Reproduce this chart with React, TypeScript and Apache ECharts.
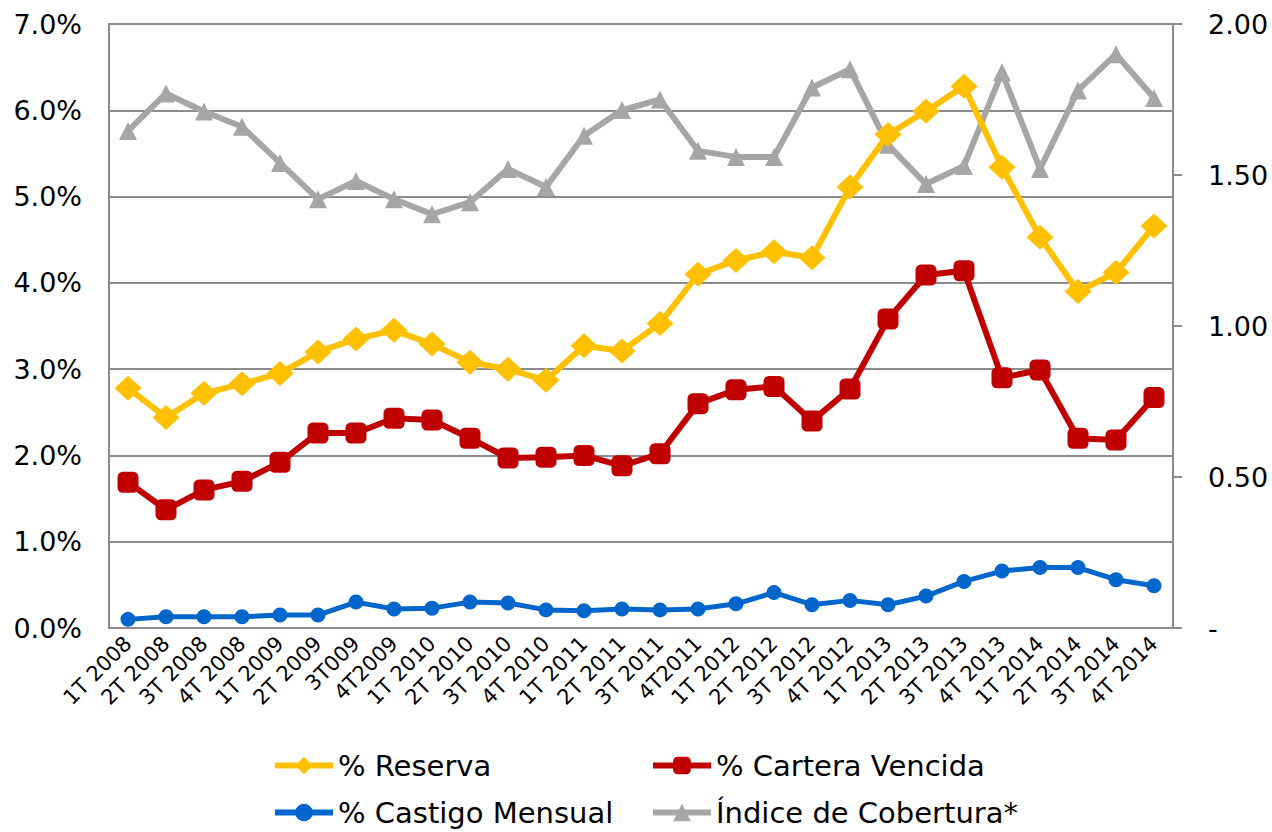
import React, { useEffect, useRef } from "react";
import * as echarts from "echarts";

const categories = [
  "1T 2008", "2T 2008", "3T 2008", "4T 2008",
  "1T 2009", "2T 2009", "3T009", "4T2009",
  "1T 2010", "2T 2010", "3T 2010", "4T 2010",
  "1T 2011", "2T 2011", "3T 2011", "4T2011",
  "1T 2012", "2T 2012", "3T 2012", "4T 2012",
  "1T 2013", "2T 2013", "3T 2013", "4T 2013",
  "1T 2014", "2T 2014", "3T 2014", "4T 2014",
];

const reserva = [
  2.78, 2.44, 2.72, 2.83, 2.95, 3.2, 3.35, 3.45, 3.29, 3.08, 3.0, 2.87,
  3.27, 3.21, 3.53, 4.1, 4.26, 4.36, 4.29, 5.11, 5.72, 5.99, 6.28, 5.34,
  4.53, 3.9, 4.12, 4.66,
];

const carteraVencida = [
  1.69, 1.37, 1.6, 1.7, 1.92, 2.26, 2.26, 2.43, 2.41, 2.2, 1.97, 1.98,
  2.0, 1.88, 2.02, 2.6, 2.76, 2.8, 2.4, 2.77, 3.58, 4.09, 4.14, 2.9,
  2.99, 2.2, 2.18, 2.67,
];

const castigoMensual = [
  0.1, 0.13, 0.13, 0.13, 0.15, 0.15, 0.3, 0.22, 0.23, 0.3, 0.29, 0.21,
  0.2, 0.22, 0.21, 0.22, 0.28, 0.41, 0.27, 0.32, 0.27, 0.37, 0.54, 0.66,
  0.7, 0.7, 0.56, 0.49,
];

const indiceCobertura = [
  1.646, 1.77, 1.71, 1.66, 1.54, 1.42, 1.48, 1.42, 1.37, 1.41, 1.52, 1.46,
  1.63, 1.715, 1.75, 1.58, 1.56, 1.56, 1.79, 1.85, 1.6, 1.47, 1.53, 1.84,
  1.52, 1.78, 1.9, 1.755,
];

const FONT = "'DejaVu Sans', Verdana, sans-serif";
const GRID_COLOR = "#8c8c8c";

export default function App() {
  const ref = useRef<HTMLDivElement>(null);

  useEffect(() => {
    if (!ref.current) return;
    const chart = echarts.init(ref.current, null, { renderer: "svg" });

    const legendBase = {
      itemWidth: 58,
      itemHeight: 22,
      textStyle: { fontFamily: FONT, fontSize: 29, color: "#000" },
      lineStyle: { width: 6 },
      selectedMode: false,
      padding: 0,
    };

    chart.setOption({
      animation: false,
      backgroundColor: "#fff",
      textStyle: { fontFamily: FONT },
      grid: { left: 109, right: 99, top: 24, bottom: 204 },
      legend: [
        { ...legendBase, data: ["% Reserva"], left: 272, top: 751 },
        { ...legendBase, data: ["% Cartera Vencida"], left: 650, top: 751 },
        { ...legendBase, data: ["% Castigo Mensual"], left: 272, top: 798 },
        { ...legendBase, data: ["Índice de Cobertura*"], left: 650, top: 798 },
      ],
      xAxis: {
        type: "category",
        data: categories,
        boundaryGap: true,
        axisLine: { lineStyle: { color: GRID_COLOR, width: 2 } },
        axisTick: { show: false },
        axisLabel: {
          rotate: 45,
          interval: 0,
          margin: 12,
          fontFamily: FONT,
          fontSize: 21,
          color: "#000",
        },
      },
      yAxis: [
        {
          type: "value",
          min: 0,
          max: 7,
          interval: 1,
          position: "left",
          axisLine: { show: true, lineStyle: { color: GRID_COLOR, width: 2 } },
          axisTick: { show: false },
          splitLine: { lineStyle: { color: GRID_COLOR, width: 2 } },
          axisLabel: {
            margin: 27,
            fontFamily: FONT,
            fontSize: 27,
            color: "#000",
            formatter: (v: number) => v.toFixed(1) + "%",
          },
        },
        {
          type: "value",
          min: 0,
          max: 2,
          interval: 0.5,
          position: "right",
          axisLine: { show: true, lineStyle: { color: GRID_COLOR, width: 2 } },
          axisTick: {
            show: true,
            inside: false,
            length: 9,
            lineStyle: { color: GRID_COLOR, width: 2 },
          },
          splitLine: { show: false },
          axisLabel: {
            margin: 35,
            fontFamily: FONT,
            fontSize: 27,
            color: "#000",
            formatter: (v: number) => (v === 0 ? "-" : v.toFixed(2)),
          },
        },
      ],
      series: [
        {
          name: "% Reserva",
          type: "line",
          yAxisIndex: 0,
          data: reserva,
          color: "#FFC000",
          symbol: "diamond",
          symbolSize: [27, 25],
          lineStyle: { width: 6, color: "#FFC000" },
          itemStyle: { color: "#FFC000" },
          z: 3,
        },
        {
          name: "% Cartera Vencida",
          type: "line",
          yAxisIndex: 0,
          data: carteraVencida,
          color: "#C00000",
          symbol: "roundRect",
          symbolSize: 21,
          lineStyle: { width: 6, color: "#C00000" },
          itemStyle: { color: "#C00000" },
          z: 3,
        },
        {
          name: "% Castigo Mensual",
          type: "line",
          yAxisIndex: 0,
          data: castigoMensual,
          color: "#0066CC",
          symbol: "circle",
          symbolSize: 15,
          lineStyle: { width: 5, color: "#0066CC" },
          itemStyle: { color: "#0066CC" },
          z: 3,
        },
        {
          name: "Índice de Cobertura*",
          type: "line",
          yAxisIndex: 1,
          data: indiceCobertura,
          color: "#A6A6A6",
          symbol: "triangle",
          symbolSize: 18,
          lineStyle: { width: 6, color: "#A6A6A6" },
          itemStyle: { color: "#A6A6A6" },
          z: 2,
        },
      ],
    });

    return () => chart.dispose();
  }, []);

  return <div ref={ref} style={{ width: 1272, height: 832, position: "absolute", left: 0, top: 0 }} />;
}
